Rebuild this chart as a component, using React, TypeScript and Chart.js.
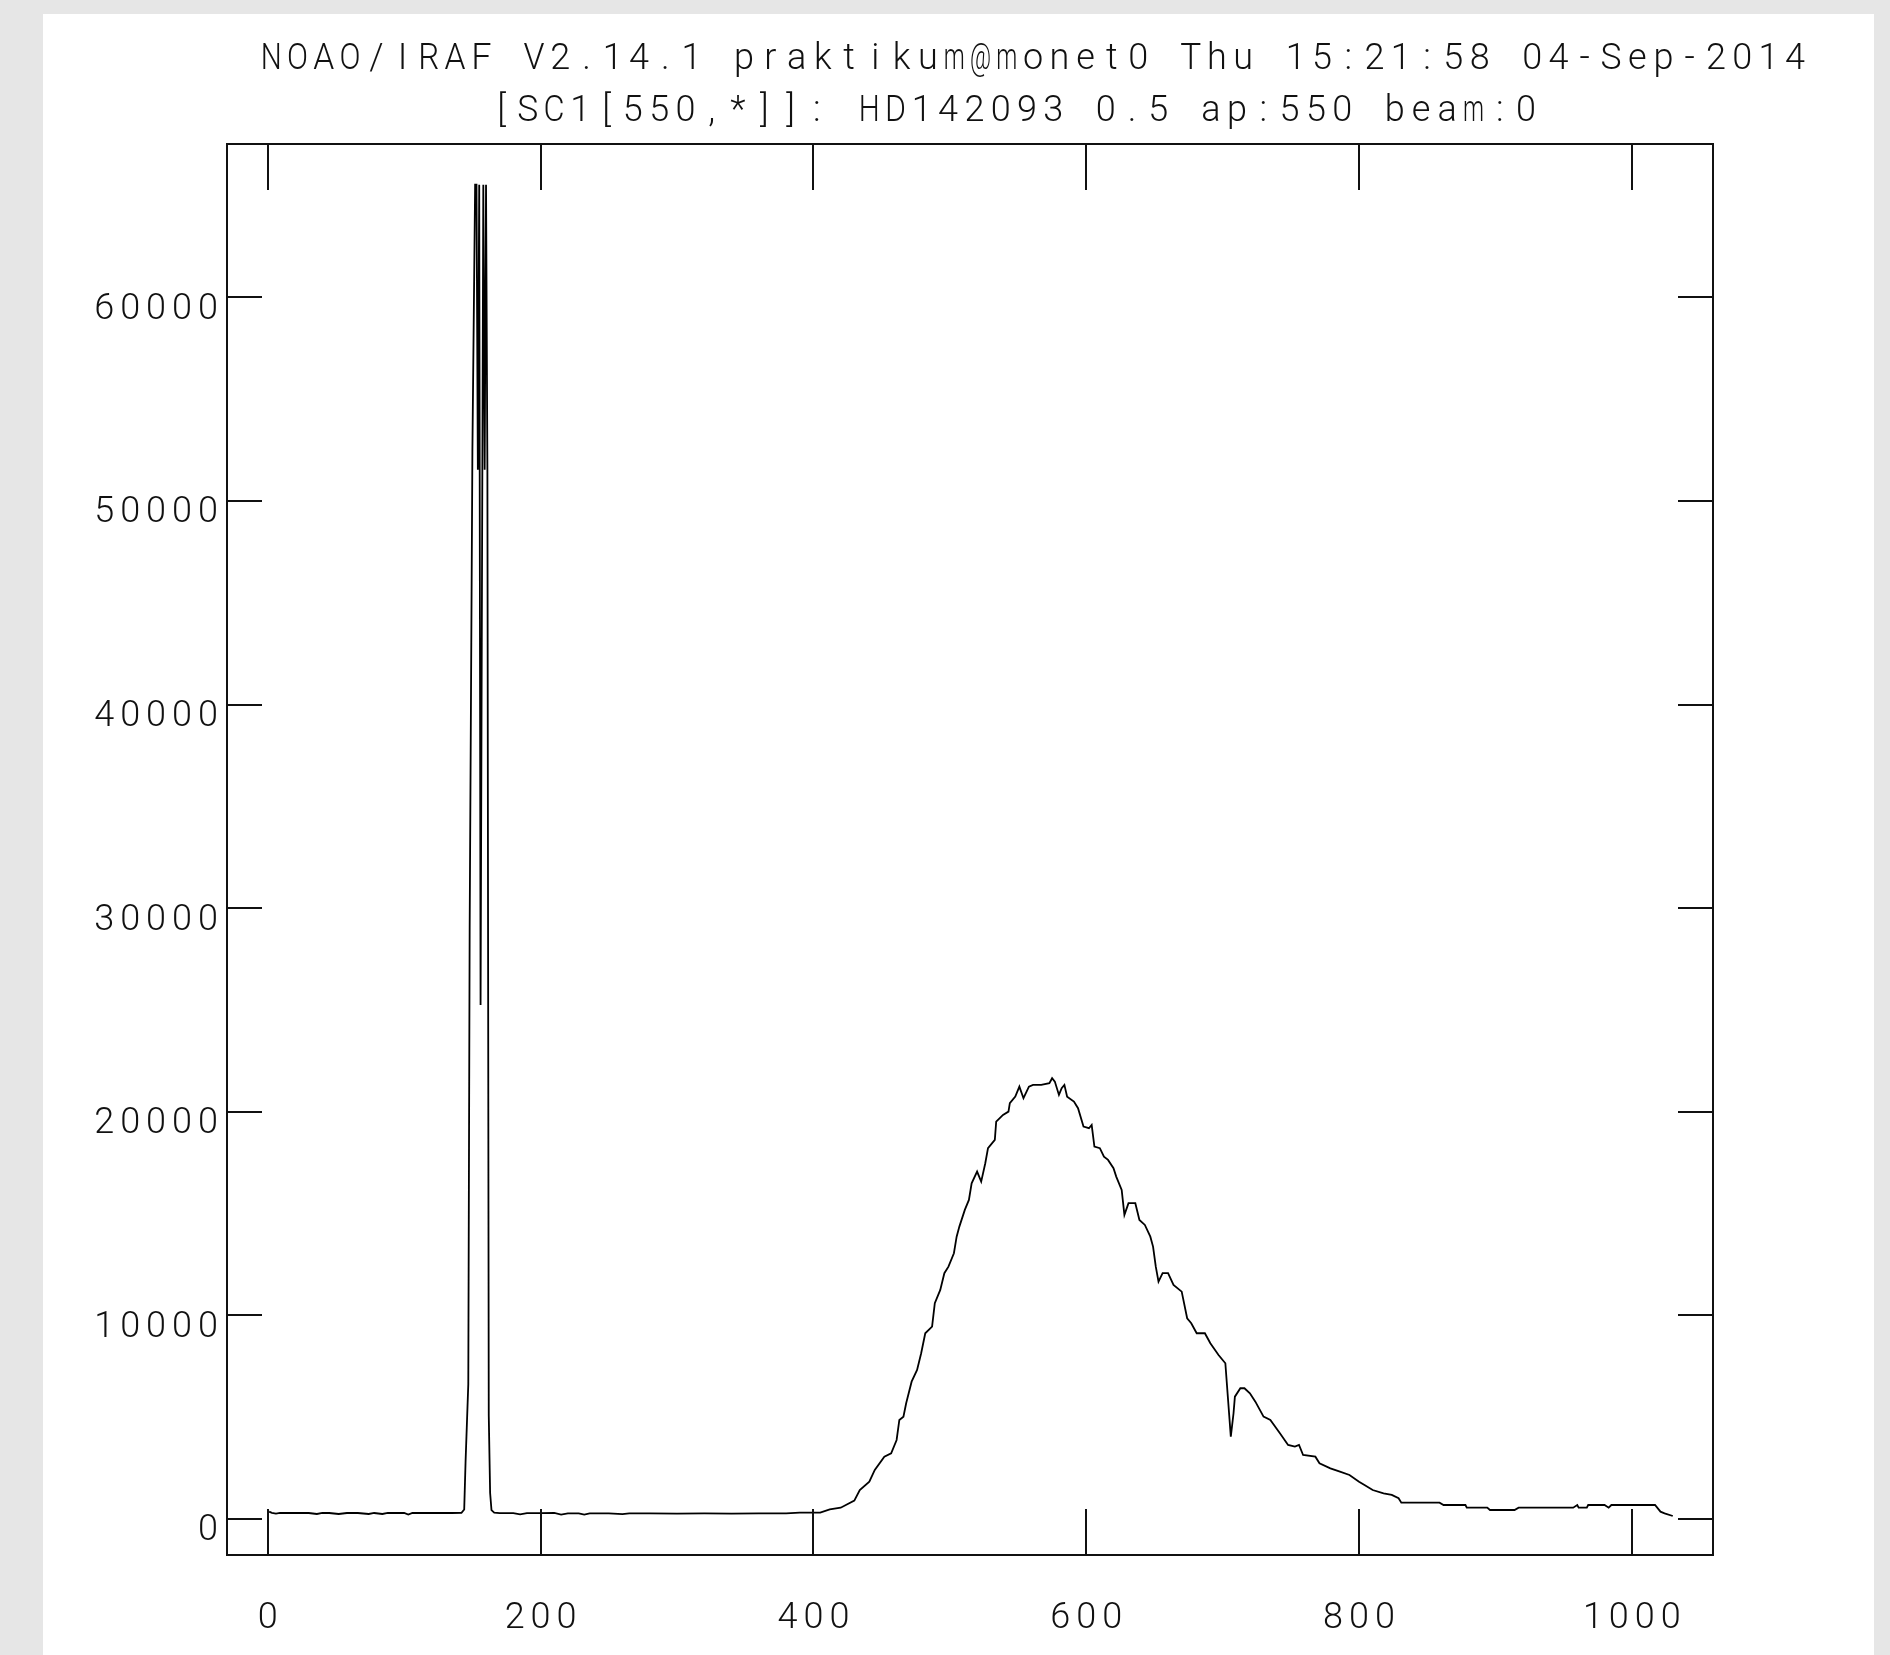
import { useEffect, useRef } from 'react';
import { Chart, registerables } from 'chart.js';

Chart.register(...registerables);

// ---- data ----
const titleLine1 = 'NOAO/IRAF V2.14.1 praktikum@monet0 Thu 15:21:58 04-Sep-2014';
const titleLine2 = '[SC1[550,*]]: HD142093 0.5 ap:550 beam:0';

const pixelIndex = [
  1, 3, 6, 9, 14, 20, 30, 36, 40, 45, 52, 58, 66, 74, 78, 84, 88, 100, 103, 106, 120, 135, 142,
  144, 145, 147, 148, 150, 152, 153, 154, 155, 156, 157, 158, 159, 160, 161, 162, 163, 164, 166,
  170, 180, 185, 190, 200, 210, 215, 220, 228, 232, 236, 250, 260, 265, 280, 300, 320, 340, 360, 380,
  390, 405, 412, 420, 430, 434, 441, 445, 452, 457, 461, 463, 466, 468, 472, 476, 479, 482, 487, 489,
  493, 496, 499, 503, 505, 507, 511, 514, 516, 520, 523, 526, 528, 533, 534, 539, 543, 544, 548, 551,
  554, 558, 561, 567, 573, 575, 577, 580, 582, 584, 586, 591, 594, 598, 602, 604, 606, 610, 613, 616,
  620, 622, 626, 628, 631, 636, 639, 643, 647, 649, 651, 653, 656, 660, 664, 670, 674, 677, 681, 687,
  691, 697, 702, 704, 706, 708, 709, 713, 716, 720, 724, 730, 735, 742, 748, 753, 756, 759, 768, 771,
  779, 786, 793, 800, 804, 810, 818, 824, 829, 831, 859, 862, 878, 879, 894, 896, 914, 917, 957, 960,
  961, 967, 968, 980, 983, 985, 1017, 1021, 1024, 1030,
];

const counts = [
  350, 290, 250, 290, 280, 290, 280, 230, 280, 280, 230, 280, 280, 230, 280, 230, 280, 280, 200, 280, 280, 280, 290,
  450, 2810, 6620, 29050, 52430, 65535, 65535, 51530, 65535, 25240, 45560, 65535, 51530, 65535, 51530, 5070, 1260, 420, 300,
  270, 270, 210, 270, 270, 280, 200, 260, 260, 200, 260, 260, 220, 260, 260, 250, 260, 250, 260, 260,
  295, 295, 462, 541, 885, 1410, 1818, 2393, 3047, 3213, 3867, 4850, 5012, 5670, 6732, 7307, 8128, 9111, 9435, 10585,
  11238, 12060, 12383, 13040, 13857, 14349, 15169, 15661, 16479, 17052, 16560, 17464, 18202, 18610, 19509, 19838, 20000, 20412, 20737, 21229,
  20658, 21229, 21311, 21311, 21393, 21641, 21475, 20821, 21149, 21311, 20737, 20491, 20167, 19263, 19183, 19346, 18280, 18202, 17789, 17627,
  17218, 16806, 16152, 14924, 15499, 15499, 14678, 14432, 13857, 13366, 12383, 11646, 12060, 12060, 11484, 11155, 9848, 9602, 9111, 9111,
  8619, 8044, 7637, 5833, 4029, 5180, 5995, 6408, 6408, 6162, 5749, 5012, 4850, 4196, 3621, 3539, 3621, 3130, 3047, 2720,
  2475, 2311, 2147, 1818, 1656, 1410, 1248, 1165, 1002, 786, 786, 673, 673, 541, 541, 427, 427, 541, 541, 673,
  541, 541, 673, 673, 541, 673, 673, 344, 265, 132,
];

const xTickValues = [0, 200, 400, 600, 800, 1000];
const yTickValues = [0, 10000, 20000, 30000, 40000, 50000, 60000];
const xLimits = [-29.9, 1059.5];
const yLimits = [-1784, 67538];

// ---- styling ----
const FONT_FAMILY = 'Roboto, "DejaVu Sans", sans-serif';
const FONT_SIZE = 36;
const FONT_WEIGHT = '300';
const CHAR_ADVANCE = 26.27;
const CHAR_MAX_WIDTH = 21;
const LETTER_SPACING = 6.0;
const INK = '#111111';

const framePlugin = {
  id: 'iraf-frame',
  beforeDraw(chart: any) {
    chart.ctx.letterSpacing = LETTER_SPACING + 'px';
  },
  afterDraw(chart: any) {
    const { ctx, chartArea: a, scales } = chart;
    ctx.save();
    ctx.letterSpacing = '0px';
    ctx.strokeStyle = INK;
    ctx.lineWidth = 2;
    ctx.strokeRect(a.left, a.top, a.right - a.left, a.bottom - a.top);
    ctx.beginPath();
    for (const t of scales.x.ticks) {
      const p = Math.round(scales.x.getPixelForValue(t.value));
      ctx.moveTo(p, a.bottom);
      ctx.lineTo(p, a.bottom - 46);
      ctx.moveTo(p, a.top);
      ctx.lineTo(p, a.top + 46);
    }
    for (const t of scales.y.ticks) {
      const p = Math.round(scales.y.getPixelForValue(t.value));
      ctx.moveTo(a.left, p);
      ctx.lineTo(a.left + 35, p);
      ctx.moveTo(a.right, p);
      ctx.lineTo(a.right - 35, p);
    }
    ctx.stroke();

    // title, drawn as fixed-pitch text
    ctx.fillStyle = INK;
    ctx.font = `${FONT_WEIGHT} ${FONT_SIZE}px ${FONT_FAMILY}`;
    ctx.textAlign = 'center';
    ctx.textBaseline = 'alphabetic';
    const drawMono = (s: string, x0: number, y: number) => {
      for (let i = 0; i < s.length; i++) {
        ctx.fillText(s[i], x0 + i * CHAR_ADVANCE, y, CHAR_MAX_WIDTH);
      }
    };
    drawMono(titleLine1, 271.2, 68.5);
    drawMono(titleLine2, 501.5, 120.5);
    ctx.restore();
  },
};

export default function App() {
  const canvasRef = useRef<HTMLCanvasElement | null>(null);

  useEffect(() => {
    const canvas = canvasRef.current;
    if (!canvas) return;
    const points = pixelIndex.map((x, i) => ({ x, y: counts[i] }));
    const tickFont = { family: FONT_FAMILY, size: FONT_SIZE, weight: FONT_WEIGHT as any };
    const chart = new Chart(canvas, {
      type: 'line',
      data: {
        datasets: [
          {
            data: points,
            borderColor: '#000000',
            borderWidth: 1.8,
            pointRadius: 0,
            tension: 0,
            fill: false,
          },
        ],
      },
      options: {
        responsive: false,
        devicePixelRatio: 1,
        animation: false,
        parsing: false as any,
        layout: { padding: { top: 144, left: 0, right: 177, bottom: 0 } },
        plugins: {
          legend: { display: false },
          tooltip: { enabled: false },
          title: { display: false },
        },
        scales: {
          x: {
            type: 'linear',
            min: xLimits[0],
            max: xLimits[1],
            afterBuildTicks: (s: any) => {
              s.ticks = xTickValues.map((v) => ({ value: v }));
            },
            afterFit: (s: any) => {
              s.height = 100;
            },
            grid: { display: false, drawTicks: false },
            border: { display: false },
            ticks: {
              color: INK,
              font: tickFont,
              padding: 42,
              labelOffset: LETTER_SPACING / 2,
              maxRotation: 0,
              autoSkip: false,
              callback: (v: any) => String(v),
            },
          },
          y: {
            type: 'linear',
            min: yLimits[0],
            max: yLimits[1],
            afterBuildTicks: (s: any) => {
              s.ticks = yTickValues.map((v) => ({ value: v }));
            },
            afterFit: (s: any) => {
              s.width = 227;
            },
            grid: { display: false, drawTicks: false },
            border: { display: false },
            ticks: {
              color: INK,
              font: tickFont,
              padding: 3,
              labelOffset: 12.5,
              autoSkip: false,
              callback: (v: any) => String(v),
            },
          },
        },
      },
      plugins: [framePlugin],
    });
    return () => chart.destroy();
  }, []);

  return (
    <div
      style={{
        position: 'fixed',
        left: 0,
        top: 0,
        width: 1890,
        height: 1655,
        background: '#e6e6e6',
        overflow: 'hidden',
      }}
    >
      <div
        style={{
          position: 'absolute',
          left: 43,
          top: 14,
          width: 1831,
          height: 1641,
          background: '#ffffff',
        }}
      />
      <canvas
        ref={canvasRef}
        width={1890}
        height={1655}
        style={{ position: 'absolute', left: 0, top: 0, width: 1890, height: 1655 }}
      />
    </div>
  );
}
